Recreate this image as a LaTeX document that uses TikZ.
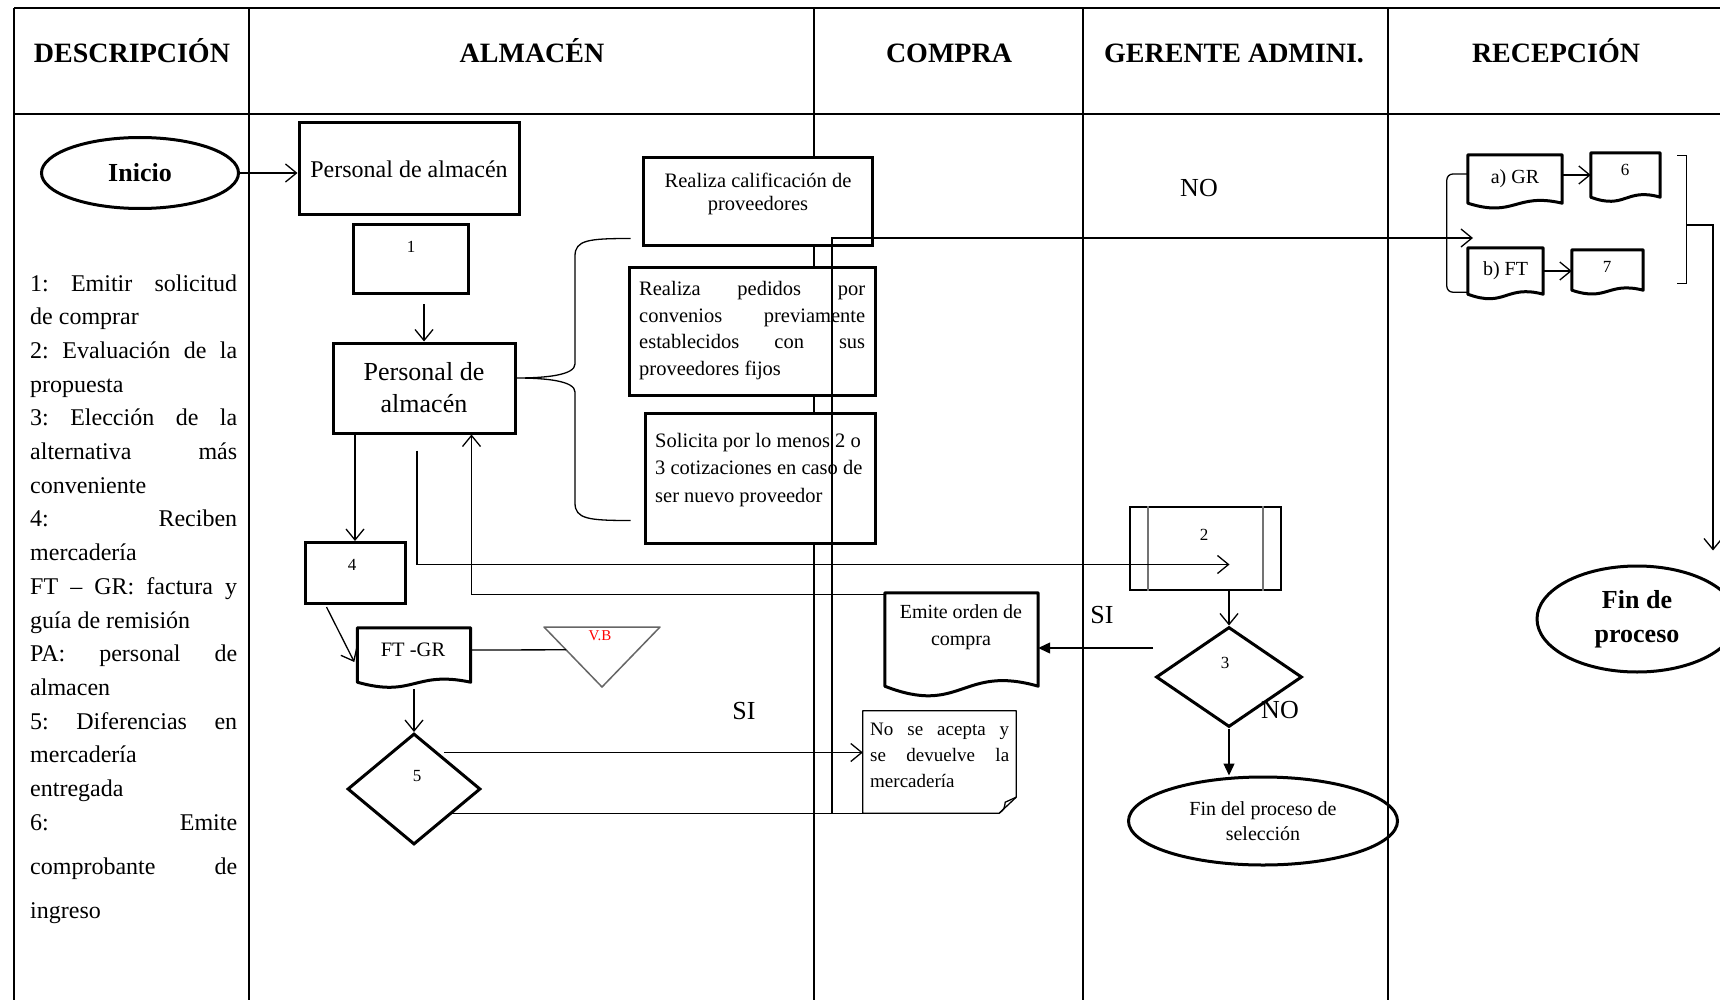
\documentclass[tikz,border=0pt]{standalone}
\usepackage{fontspec}
\setmainfont{Liberation Serif}
\usetikzlibrary{shapes.geometric,arrows.meta,calc}
\newcommand\jl[1]{\hbox to 207pt{#1}}
\newcommand\docoutline[4][3pt]{%
  \draw[line width=#1, line join=round] (#2.south west) -- (#2.north west) -- (#2.north east) -- (#2.south east)
   .. controls ($(#2.south)+(0,-#3)$) and ($(#2.south)+(0,#4)$) .. (#2.south west) -- cycle;}
\begin{document}
\begin{tikzpicture}[x=1pt,y=-1pt,
  lane/.style={line width=1.6pt},
  bx/.style={draw, line width=3pt, fill=white, inner sep=0pt},
  shp/.style={inner sep=0pt},
  con/.style={line width=1.3pt},
  arr/.style={con, -{Straight Barb[length=11pt,width=18pt]}},
  farr/.style={con, -{Triangle[length=12pt,width=11pt]}},
  hdr/.style={anchor=base, inner sep=0pt, font=\fontsize{28pt}{32pt}\selectfont\bfseries},
  desc/.style={anchor=base west, inner sep=0pt, font=\fontsize{24pt}{28pt}\selectfont},
  small/.style={inner sep=0pt, font=\fontsize{17pt}{20pt}\selectfont},
  mid/.style={inner sep=0pt, font=\fontsize{20.5pt}{24pt}\selectfont},
  big/.style={inner sep=0pt, font=\fontsize{26pt}{30pt}\selectfont},
]
\useasboundingbox (0,0) rectangle (1720,1000);
\fill[white] (0,0) rectangle (1720,1000);

% ---- lanes ----
\draw[lane] (14,8) -- (1720,8);
\draw[lane] (14,114) -- (1720,114);
\foreach \x in {14,249,814,1083,1388} \draw[lane] (\x,8) -- (\x,1000);

% ---- headers ----
\node[hdr] (h1) at (132,63) {DESCRIPCIÓN};
\node[hdr] (h2) at (532,63) {ALMACÉN};
\node[hdr] (h3) at (949,63) {COMPRA};
\node[hdr] (h4) at (1234,63) {GERENTE ADMINI.};
\node[hdr] (h5) at (1556,63) {RECEPCIÓN};

% ---- description ----
\node[desc] (d1) at (30,291) {\jl{1:\hfill Emitir\hfill solicitud}};
\node[desc] (d2) at (30,324.7) {de comprar};
\node[desc] (d3) at (30,358.4) {\jl{2:\hfill Evaluación\hfill de\hfill la}};
\node[desc] (d4) at (30,392.1) {propuesta};
\node[desc] (d5) at (30,425.8) {\jl{3:\hfill Elección\hfill de\hfill la}};
\node[desc] (d6) at (30,459.5) {\jl{alternativa\hfill más}};
\node[desc] (d7) at (30,493.2) {conveniente};
\node[desc] (d8) at (30,526.9) {\jl{4:\hfill Reciben}};
\node[desc] (d9) at (30,560.6) {mercadería};
\node[desc] (d10) at (30,594.3) {\jl{FT\hfill –\hfill GR:\hfill factura\hfill y}};
\node[desc] (d11) at (30,628) {guía de remisión};
\node[desc] (d12) at (30,661.7) {\jl{PA:\hfill personal\hfill de}};
\node[desc] (d13) at (30,695.4) {almacen};
\node[desc] (d14) at (30,729.1) {\jl{5:\hfill Diferencias\hfill en}};
\node[desc] (d15) at (30,762.8) {mercadería};
\node[desc] (d16) at (30,796.5) {entregada};
\node[desc] (d17) at (30,830.2) {\jl{6:\hfill Emite}};
\node[desc] (d18) at (30,874) {\jl{comprobante\hfill de}};
\node[desc] (d19) at (30,918) {ingreso};

% ---- shapes ----
\node[draw, ellipse, line width=3pt, minimum width=197pt, minimum height=71pt, inner sep=0pt,
      font=\fontsize{26pt}{30pt}\selectfont\bfseries] (inicio) at (140,173) {Inicio};
\node[bx, minimum width=220pt, minimum height=92pt, font=\fontsize{24pt}{28pt}\selectfont] (p1) at (409,169) {Personal de almacén};
\node[bx, minimum width=115pt, minimum height=69pt] (b1) at (411,259) {};
\node[small] (b1t) at (411,247) {1};
\node[bx, minimum width=182pt, minimum height=90pt, align=center, font=\fontsize{26pt}{32pt}\selectfont] (p2) at (424,388) {Personal de\\almacén};

\node[bx, minimum width=229pt, minimum height=88pt] (r1) at (757.5,202) {};
\node[mid, anchor=north, align=center, font=\fontsize{20.5pt}{23pt}\selectfont] (r1t) at (758,173) {Realiza calificación de\\proveedores};
\node[bx, minimum width=246pt, minimum height=128pt] (r2) at (752,331) {};
\node[mid, anchor=north west, align=left, font=\fontsize{20.5pt}{26.7pt}\selectfont] (r2t) at (639,281)
  {\hbox to 226pt{Realiza\hfill pedidos\hfill por}\\\hbox to 226pt{convenios\hfill previamente}\\\hbox to 226pt{establecidos\hfill con\hfill sus}\\proveedores fijos};
\node[bx, minimum width=230pt, minimum height=130pt] (r3) at (760,478) {};
\node[mid, anchor=north west, align=left, font=\fontsize{20.5pt}{27.5pt}\selectfont] (r3t) at (655,433)
  {Solicita por lo menos 2 o\\3 cotizaciones en caso de\\ser nuevo proveedor};

\node[bx, minimum width=100pt, minimum height=61pt] (b4) at (355,573) {};
\node[small] (b4t) at (352,565) {4};

\node[shp, minimum width=113pt, minimum height=54pt] (ftgr) at (414,655) {};
\docoutline{ftgr}{12}{16}
\node[mid] (ftgrt) at (413,650) {FT -GR};

\coordinate (vbA) at (544,627);
\coordinate (vbB) at (660,627);
\coordinate (vbC) at (602,687);
\draw[line width=1.5pt, draw=black!60, line join=round] (vbA) -- (vbB) -- (vbC) -- cycle;
\node[inner sep=0pt, text=red, font=\fontsize{15pt}{17pt}\selectfont] (vbt) at (600,636) {V.B};

\node[draw, diamond, line width=3pt, minimum width=133pt, minimum height=111pt, inner sep=0pt] (dia5) at (414,789) {};
\node[small] (dia5t) at (417,776) {5};

\node[shp, minimum width=153pt, minimum height=93pt] (emite) at (961.5,639.5) {};
\docoutline{emite}{22}{30}
\node[mid, anchor=north, align=center, font=\fontsize{20pt}{27pt}\selectfont] (emitet) at (961,604) {Emite orden de\\compra};

\node[shp, minimum width=153pt, minimum height=102pt] (nsa) at (939.5,762) {};
\draw[con, line join=round] (nsa.north west) -- (nsa.north east) -- ($(nsa.south east)+(0,-16)$) -- ($(nsa.south east)+(-17,0)$) -- (nsa.south west) -- cycle;
\draw[con] ($(nsa.south east)+(-17,0)$) .. controls ($(nsa.south east)+(-12,-4)$) .. ($(nsa.south east)+(-11,-11)$) -- ($(nsa.south east)+(0,-16)$);
\node[inner sep=0pt, anchor=north west, align=left, font=\fontsize{19pt}{26pt}\selectfont] (nsat) at (870,723)
  {\hbox to 139pt{No\hfill se\hfill acepta\hfill y}\\\hbox to 139pt{se\hfill devuelve\hfill la}\\mercadería};

\node[draw, line width=2pt, minimum width=151pt, minimum height=83pt, inner sep=0pt] (b2) at (1205.5,548.5) {};
\draw[line width=2.5pt, black!55] ($(b2.north west)+(19,0)$) -- ($(b2.south west)+(19,0)$);
\draw[line width=2.5pt, black!55] ($(b2.north east)+(-19,0)$) -- ($(b2.south east)+(-19,0)$);
\node[small] (b2t) at (1204,535) {2};

\node[draw, diamond, line width=3pt, minimum width=146pt, minimum height=100pt, inner sep=0pt] (dia3) at (1229,677) {};
\node[small] (dia3t) at (1225,663) {3};

\node[draw, ellipse, line width=3pt, minimum width=269pt, minimum height=88pt, inner sep=0pt, align=center,
      font=\fontsize{20pt}{25pt}\selectfont] (fin2) at (1263,821) {Fin del proceso de\\selección};
\node[draw, ellipse, line width=3pt, minimum width=200pt, minimum height=106pt, inner sep=0pt, align=center,
      font=\fontsize{26pt}{34pt}\selectfont\bfseries] (fin1) at (1637,619) {Fin de\\proceso};

\node[shp, minimum width=94pt, minimum height=48pt, font=\fontsize{20pt}{24pt}\selectfont] (gr) at (1515,179) {a) GR};
\docoutline{gr}{11}{15}
\node[shp, minimum width=69pt, minimum height=44pt] (six) at (1625.5,175) {};
\docoutline{six}{10}{13}
\node[small] (sixt) at (1625,170) {6};
\node[shp, minimum width=75pt, minimum height=46pt, font=\fontsize{20pt}{24pt}\selectfont] (ft) at (1505.5,271) {b) FT};
\docoutline{ft}{10}{14}
\node[shp, minimum width=71pt, minimum height=40pt] (seven) at (1607.5,270) {};
\docoutline{seven}{9}{12}
\node[small] (sevent) at (1607,267) {7};

% ---- labels ----
\node[big] (no1) at (1199,188) {NO};
\node[big] (si1) at (744,711) {SI};
\node[big] (si2) at (1102,615) {SI};
\node[big] (no2) at (1280,710) {NO};

% ---- connectors ----
\draw[arr] (inicio.east) -- (inicio.east -| p1.west);
\draw[arr] ($(b1.south -| p2.north)+(0,9)$) -- (p2.north);
\draw[con] ($(r1.south west)+(-11,-9)$) .. controls +(-42,0) and +(0,-16) .. (575,256) -- (575,364)
   .. controls +(0,11) and +(30,0) .. ($(p2.east)+(0,-10)$)
   .. controls +(30,0) and +(0,-11) .. (575,392) -- (575,503)
   .. controls +(0,16) and +(-42,0) .. ($(r3.south west)+(-13,-24)$);
\draw[arr] (p2.south -| b4.north) -- (b4.north);
\draw[arr] ($(p2.south)+(-7,16)$) |- ($(b2.center)+(24,16)$);
\draw[arr] ($(emite.north west)+(0,2)$) -| ($(p2.south east)+(-45,0)$);
\draw[arr] ($(b4.south west)+(23,2)$) -- ($(ftgr.west)+(-3,7)$);
\draw[con] ($(ftgr.east)+(0,-5)$) -- ($(vbA)!0.38!(vbC)$);
\draw[arr] ($(ftgr.south)+(0,7)$) -- (dia5.north);
\coordinate (d5a) at ($(dia5.north east)+(-4,-8)$);
\coordinate (d5b) at ($(dia5.south east)+(4,-4)$);
\draw[arr] (d5a) -- (d5a -| nsa.west);
\draw[con] (d5b) -- (d5b -| nsa.west);
\coordinate (cA) at (832,813);
\coordinate (cB) at (1473,238);
\draw[arr] (cA) |- (cB);
\draw[arr] (b2.south -| dia3.north) -- (dia3.north);
\coordinate (c3) at (1153,648);
\draw[farr] (c3) -- (c3 -| emite.east);
\draw[farr] (dia3.south) -- (dia3.south |- fin2.north);
\draw[con, rounded corners=6pt] ($(gr.west)+(0,-5)$) -| ($(ft.south west)+(-21,-2)$) -- ($(ft.south west)+(0,-2)$);
\draw[arr] (gr.east |- six.west) -- (six.west);
\draw[arr] (ft.east) -- (ft.east -| seven.west);
\draw[con] ($(six.north east)+(17,3)$) -- ++(9,0) -- ($(seven.south east)+(43,-7)$) -- ++(-9,0);
\coordinate (rb) at (1686,225);
\draw[arr] (rb) -| ($(fin1.north)+(76,-14)$);
\end{tikzpicture}
\end{document}
